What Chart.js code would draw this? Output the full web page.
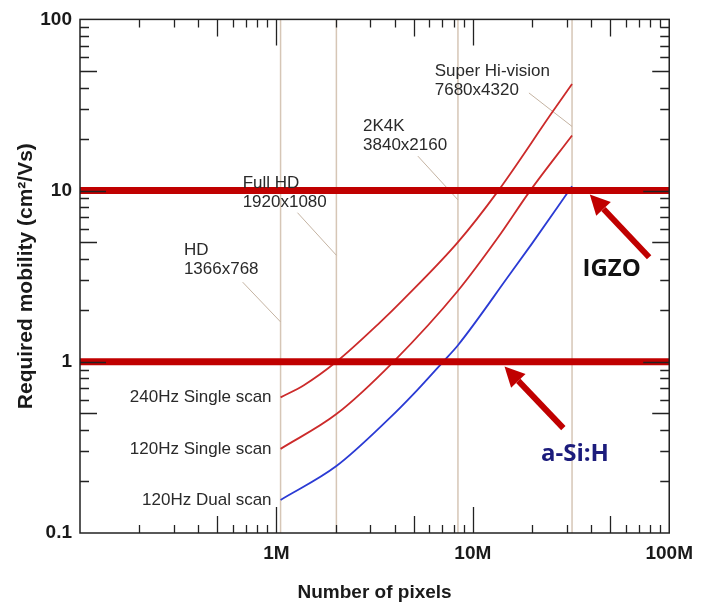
<!DOCTYPE html>
<html lang="en">
<head>
<meta charset="UTF-8">
<title>Required mobility vs number of pixels</title>
<style>
    html, body {
        margin: 0;
        padding: 0;
        background: #fff;
    }
    #wrap {
        width: 702px;
        height: 604px;
    }
</style>
</head>
<body>
<div id="wrap"><canvas id="mobilityChart" width="702" height="604"></canvas></div>

<script src="https://cdn.jsdelivr.net/npm/chart.js@4"></script>
<script>
    // display formats (vertical marker lines)
    const formatNames = ['HD', 'Full HD', '2K4K', 'Super Hi-vision'];
    const formatSizes = ['1366x768', '1920x1080', '3840x2160', '7680x4320'];
    const formatPixels = [1.05e6, 2.02e6, 8.4e6, 32e6];

    // required mobility curves
    const scan240Pixels = [1.05e6, 1.38e6, 2.02e6, 3.37e6, 4.41e6, 8.4e6, 13.4e6, 25e6, 32e6];
    const scan240Mobility = [0.62, 0.73, 1.0, 1.7, 2.3, 5.0, 9.9, 28, 42];
    const scan120Pixels = [1.05e6, 2.02e6, 3.94e6, 8.4e6, 13.4e6, 19.6e6, 32e6];
    const scan120Mobility = [0.31, 0.495, 1.0, 2.6, 5.3, 10, 21];
    const dual120Pixels = [1.05e6, 2.02e6, 3.78e6, 4.97e6, 7.05e6, 8.4e6, 15.3e6, 20e6, 32e6];
    const dual120Mobility = [0.156, 0.246, 0.47, 0.645, 1.0, 1.25, 3.2, 4.9, 10.6];
    const curveNames = ['240Hz Single scan', '120Hz Single scan', '120Hz Dual scan'];

    // material mobility levels
    const materialNames = ['IGZO', 'a-Si:H'];
    const materialMobility = [10, 1];

    // axis ticks
    const xTicks = [1e5, 1e6, 1e7, 1e8];
    const xTickLabels = ['', '1M', '10M', '100M'];
    const yTicks = [0.1, 1, 10, 100];
    const yTickLabels = ['0.1', '1', '10', '100'];

    // annotation anchors, in data units
    const labelAnchors = [[0.338e6, 4.48], [0.673e6, 11.1], [2.76e6, 23.7], [6.4e6, 49.9]];
    const leaderStarts = [[0.673e6, 2.92], [1.28e6, 7.43], [5.25e6, 15.9], [19.3e6, 37.2]];
    const leaderEnds = [1.71, 4.19, 8.83, 23.7];
    const arrowFrom = [[79e6, 4.08], [28.9e6, 0.41]];
    const arrowTo = [[39.4e6, 9.5], [14.5e6, 0.94]];
    const materialLabelAt = [[50.9e6, 3.48], [33.1e6, 0.29]];

    const SANS = '"Liberation Sans", Arial, sans-serif';
    const RED = '#c00000';

    const toPoints = (xs, ys) => xs.map((v, i) => ({x: v, y: ys[i]}));

    const datasets = [];
    // thick material lines on top
    materialMobility.forEach((m, i) => {
        datasets.push({
            label: materialNames[i],
            data: [{x: xTicks[0], y: m}, {x: xTicks[xTicks.length - 1], y: m}],
            borderColor: RED,
            borderWidth: 7,
            pointRadius: 0
        });
    });
    const curveStyle = {borderWidth: 1.8, pointRadius: 0, cubicInterpolationMode: 'monotone'};
    datasets.push(Object.assign({label: curveNames[0], data: toPoints(scan240Pixels, scan240Mobility), borderColor: '#cc2b2b'}, curveStyle));
    datasets.push(Object.assign({label: curveNames[1], data: toPoints(scan120Pixels, scan120Mobility), borderColor: '#cc2b2b'}, curveStyle));
    datasets.push(Object.assign({label: curveNames[2], data: toPoints(dual120Pixels, dual120Mobility), borderColor: '#2b3bd4'}, curveStyle));
    // leader lines from labels to format lines
    formatPixels.forEach((p, i) => {
        datasets.push({
            label: 'leader ' + formatNames[i],
            data: [{x: leaderStarts[i][0], y: leaderStarts[i][1]}, {x: p, y: leaderEnds[i]}],
            borderColor: '#c4b3a2',
            borderWidth: 1,
            pointRadius: 0
        });
    });
    // vertical format lines at the back
    formatPixels.forEach((p, i) => {
        datasets.push({
            label: formatNames[i],
            data: [{x: p, y: yTicks[0]}, {x: p, y: yTicks[yTicks.length - 1]}],
            borderColor: '#d6c6b6',
            borderWidth: 1.5,
            pointRadius: 0
        });
    });

    function drawArrow(ctx, x1, y1, x2, y2) {
        const ang = Math.atan2(y2 - y1, x2 - x1);
        const headLen = 20, headW = 10;
        const bx = x2 - headLen * Math.cos(ang), by = y2 - headLen * Math.sin(ang);
        ctx.strokeStyle = RED;
        ctx.fillStyle = RED;
        ctx.lineWidth = 6;
        ctx.beginPath();
        ctx.moveTo(x1, y1);
        ctx.lineTo(bx, by);
        ctx.stroke();
        ctx.beginPath();
        ctx.moveTo(x2, y2);
        ctx.lineTo(bx + headW * Math.sin(ang), by - headW * Math.cos(ang));
        ctx.lineTo(bx - headW * Math.sin(ang), by + headW * Math.cos(ang));
        ctx.closePath();
        ctx.fill();
    }

    const overlay = {
        id: 'overlay',
        afterDatasetsDraw(chart) {
            const {ctx, chartArea: a, scales: {x, y}} = chart;
            const px = v => x.getPixelForValue(v);
            const py = v => y.getPixelForValue(v);
            ctx.save();

            // frame
            ctx.strokeStyle = '#222';
            ctx.lineWidth = 1.5;
            ctx.strokeRect(a.left, a.top, a.right - a.left, a.bottom - a.top);

            // inward ticks on all four sides
            ctx.lineWidth = 1.3;
            ctx.beginPath();
            for (let d = 0; d < xTicks.length - 1; d++) {
                for (let m = 1; m <= 9; m++) {
                    if (d === 0 && m === 1) continue;
                    const len = m === 1 ? 26 : (m === 5 ? 17 : 8);
                    const xx = Math.round(px(xTicks[d] * m)) + 0.5;
                    ctx.moveTo(xx, a.bottom); ctx.lineTo(xx, a.bottom - len);
                    ctx.moveTo(xx, a.top); ctx.lineTo(xx, a.top + len);
                }
            }
            for (let d = 0; d < yTicks.length - 1; d++) {
                for (let m = 1; m <= 9; m++) {
                    if (d === 0 && m === 1) continue;
                    const len = m === 1 ? 26 : (m === 5 ? 17 : 9);
                    const yy = Math.round(py(yTicks[d] * m)) + 0.5;
                    ctx.moveTo(a.left, yy); ctx.lineTo(a.left + len, yy);
                    ctx.moveTo(a.right, yy); ctx.lineTo(a.right - len, yy);
                }
            }
            ctx.stroke();

            // format labels
            ctx.fillStyle = '#2a2a2a';
            ctx.font = '17px ' + SANS;
            ctx.textAlign = 'left';
            ctx.textBaseline = 'middle';
            labelAnchors.forEach((p, i) => {
                const lx = px(p[0]), ly = py(p[1]);
                ctx.fillText(formatNames[i], lx, ly);
                ctx.fillText(formatSizes[i], lx, ly + 19);
            });

            // curve labels, right of text at the curve start
            ctx.textAlign = 'right';
            [[scan240Pixels, scan240Mobility], [scan120Pixels, scan120Mobility], [dual120Pixels, dual120Mobility]]
                .forEach((c, i) => {
                    ctx.fillText(curveNames[i], px(c[0][0]) - 9, py(c[1][0]));
                });

            // arrows + material labels
            arrowFrom.forEach((f, i) => {
                drawArrow(ctx, px(f[0]), py(f[1]), px(arrowTo[i][0]), py(arrowTo[i][1]));
            });
            ctx.textAlign = 'center';
            ctx.font = 'bold 24px "Open Sans", ' + SANS;
            ctx.fillStyle = '#111';
            ctx.fillText(materialNames[0], px(materialLabelAt[0][0]), py(materialLabelAt[0][1]));
            ctx.fillStyle = '#1c1c7c';
            ctx.fillText(materialNames[1], px(materialLabelAt[1][0]), py(materialLabelAt[1][1]));

            ctx.restore();
        }
    };

    new Chart(document.getElementById('mobilityChart'), {
        type: 'line',
        data: {datasets: datasets},
        options: {
            responsive: false,
            animation: false,
            devicePixelRatio: 1,
            layout: {padding: {left: 0, right: 30, top: 15, bottom: 0}},
            plugins: {
                legend: {display: false},
                tooltip: {enabled: false}
            },
            scales: {
                x: {
                    type: 'logarithmic',
                    min: xTicks[0],
                    max: xTicks[xTicks.length - 1],
                    grid: {display: false, drawTicks: false},
                    border: {display: false},
                    afterBuildTicks: s => { s.ticks = xTicks.map(v => ({value: v})); },
                    afterFit: s => { s.height = 71; },
                    ticks: {
                        autoSkip: false,
                        maxRotation: 0,
                        padding: 9,
                        color: '#1a1a1a',
                        font: {family: SANS, size: 19, weight: 'bold'},
                        callback: (v, i) => xTickLabels[i]
                    },
                    title: {
                        display: true,
                        text: 'Number of pixels',
                        color: '#1a1a1a',
                        padding: {top: 0, bottom: 0},
                        font: {family: SANS, size: 19, weight: 'bold'}
                    }
                },
                y: {
                    type: 'logarithmic',
                    min: yTicks[0],
                    max: yTicks[yTicks.length - 1],
                    grid: {display: false, drawTicks: false},
                    border: {display: false},
                    afterBuildTicks: s => { s.ticks = yTicks.map(v => ({value: v})); },
                    afterFit: s => { s.width = 80; },
                    ticks: {
                        autoSkip: false,
                        padding: 8,
                        color: '#1a1a1a',
                        font: {family: SANS, size: 19, weight: 'bold'},
                        callback: (v, i) => yTickLabels[i]
                    },
                    title: {
                        display: true,
                        text: 'Required mobility (cm²/Vs)',
                        color: '#1a1a1a',
                        padding: {top: 14, bottom: 0},
                        font: {family: SANS, size: 21, weight: 'bold'}
                    }
                }
            }
        },
        plugins: [overlay]
    });
</script>
</body>
</html>
